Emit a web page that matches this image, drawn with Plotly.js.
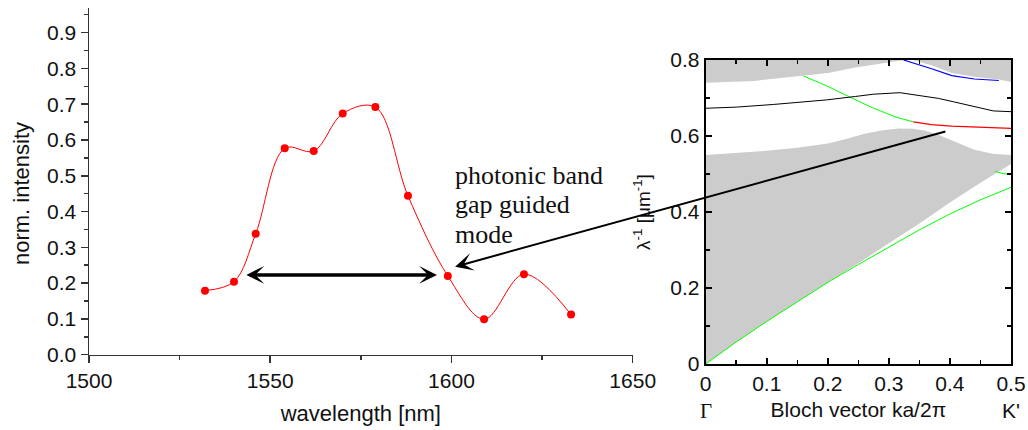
<!DOCTYPE html>
<html><head><meta charset="utf-8">
<script src="https://cdn.plot.ly/plotly-3.0.1.min.js"></script>
<style>html,body{margin:0;padding:0;background:#fff}#chart{width:1028px;height:430px}</style>
</head><body><div id="chart"></div>
<script>
// ---------- left panel: measured spectrum ----------
const wavelength = [1532, 1540, 1546, 1554, 1562, 1570, 1579, 1588, 1599, 1609, 1620, 1633];
const intensity  = [0.179, 0.204, 0.338, 0.577, 0.569, 0.674, 0.692, 0.444, 0.220, 0.099, 0.225, 0.112];

// band-gap span (double arrow) and guided-mode pointer
const gapStartWl = 1543, gapEndWl = 1596, gapLevel = 0.223;
const modeTipWl = 1601, modeTipInt = 0.246;
const modeTailK = 0.395, modeTailF = 0.613;
const labelLines = ['photonic band', 'gap guided', 'mode'];

// ---------- right panel: band diagram ----------
// main gray continuum
const grayMainUpperK = [0, 0.05, 0.1, 0.15, 0.2, 0.23, 0.26, 0.29, 0.316, 0.34, 0.36, 0.38, 0.4, 0.42, 0.44, 0.47, 0.5];
const grayMainUpperF = [0.55, 0.555, 0.561, 0.569, 0.58, 0.592, 0.606, 0.615, 0.620, 0.619, 0.614, 0.604, 0.59, 0.576, 0.564, 0.553, 0.55];
const grayMainLowerK = [0.5, 0.45, 0.4, 0.35, 0.3, 0.25, 0.2, 0.15, 0.1, 0.05, 0];
const grayMainLowerF = [0.526, 0.477, 0.425, 0.37, 0.318, 0.265, 0.215, 0.164, 0.112, 0.058, 0];
// upper gray regions
const grayTopLeftK = [0, 0, 0.08, 0.16, 0.2, 0.245, 0.3, 0.325];
const grayTopLeftF = [0.8, 0.74, 0.745, 0.758, 0.766, 0.78, 0.795, 0.8];
const grayTopRightK = [0.338, 0.37, 0.403, 0.44, 0.48, 0.5, 0.5];
const grayTopRightF = [0.8, 0.786, 0.766, 0.756, 0.749, 0.742, 0.8];
// bands
const greenLowK = [0, 0.05, 0.1, 0.15, 0.2, 0.25, 0.3, 0.35, 0.4, 0.45, 0.5];
const greenLowF = [0, 0.058, 0.112, 0.164, 0.215, 0.262, 0.308, 0.353, 0.395, 0.432, 0.465];
const greenShortK = [0.474, 0.487, 0.5];
const greenShortF = [0.507, 0.501, 0.499];
const greenUpK = [0.16, 0.198, 0.234, 0.275, 0.313, 0.34];
const greenUpF = [0.758, 0.732, 0.704, 0.673, 0.649, 0.637];
const redK = [0.34, 0.37, 0.403, 0.45, 0.5];
const redF = [0.637, 0.630, 0.626, 0.623, 0.620];
const blackK = [0, 0.05, 0.111, 0.15, 0.198, 0.245, 0.275, 0.318, 0.356, 0.381, 0.406, 0.438, 0.471, 0.5];
const blackF = [0.673, 0.676, 0.683, 0.688, 0.695, 0.704, 0.710, 0.714, 0.706, 0.699, 0.690, 0.679, 0.666, 0.664];
const blueK = [0.324, 0.35, 0.37, 0.403, 0.44, 0.48];
const blueF = [0.8, 0.788, 0.777, 0.759, 0.75, 0.746];

// ---------- geometry ----------
const W = 1028, H = 430;
const dom = {
  x1: [89 / W, 632.7 / W], y1: [1 - 354.7 / H, 1 - 8.3 / H],
  x2: [705.7 / W, 1011 / W], y2: [1 - 364 / H, 1 - 60 / H]
};
const rng = { x1: [1500, 1650], y1: [0, 0.968], x2: [0, 0.5], y2: [0, 0.8] };
function toPx(d, r, v) { return W * (d[0] + (v - r[0]) / (r[1] - r[0]) * (d[1] - d[0])); }
function toPy(d, r, v) { return H * (1 - (d[0] + (v - r[0]) / (r[1] - r[0]) * (d[1] - d[0]))); }

const SANS = 'Liberation Sans, Arial, sans-serif';
const SERIF = 'Liberation Serif, Times New Roman, serif';
const GRAY = '#cccccc';

const traces = [
  // right panel fills
  { x: grayMainUpperK.concat(grayMainLowerK), y: grayMainUpperF.concat(grayMainLowerF), xaxis: 'x2', yaxis: 'y2',
    mode: 'lines', fill: 'toself', fillcolor: GRAY, line: { width: 0 }, hoverinfo: 'skip' },
  { x: grayTopLeftK, y: grayTopLeftF, xaxis: 'x2', yaxis: 'y2',
    mode: 'lines', fill: 'toself', fillcolor: GRAY, line: { width: 0 }, hoverinfo: 'skip' },
  { x: grayTopRightK, y: grayTopRightF, xaxis: 'x2', yaxis: 'y2',
    mode: 'lines', fill: 'toself', fillcolor: GRAY, line: { width: 0 }, hoverinfo: 'skip' },
  // bands
  { x: greenLowK, y: greenLowF, xaxis: 'x2', yaxis: 'y2', mode: 'lines', line: { color: '#00ff00', width: 1 } },
  { x: greenShortK, y: greenShortF, xaxis: 'x2', yaxis: 'y2', mode: 'lines', line: { color: '#00ff00', width: 1 } },
  { x: greenUpK, y: greenUpF, xaxis: 'x2', yaxis: 'y2', mode: 'lines', line: { color: '#00ff00', width: 1 } },
  { x: redK, y: redF, xaxis: 'x2', yaxis: 'y2', mode: 'lines', line: { color: '#ff0000', width: 1.2 } },
  { x: blackK, y: blackF, xaxis: 'x2', yaxis: 'y2', mode: 'lines', line: { color: '#000000', width: 1 } },
  { x: blueK, y: blueF, xaxis: 'x2', yaxis: 'y2', mode: 'lines', line: { color: '#0000ff', width: 1.2 } },
  // left panel spectrum
  { x: wavelength, y: intensity, xaxis: 'x', yaxis: 'y', mode: 'lines+markers',
    line: { color: '#ff0000', width: 1, shape: 'spline', smoothing: 1 },
    marker: { color: '#ff0000', size: 8 } }
];

const leftAxisCommon = {
  showline: true, linecolor: '#333', linewidth: 1.5, ticks: 'outside', ticklen: 7, tickwidth: 1.5,
  tickcolor: '#333', showgrid: false, zeroline: false, tickfont: { family: SANS, size: 21, color: '#111' }
};
const rightAxisCommon = {
  showline: true, linecolor: '#000', linewidth: 2, ticks: 'inside', ticklen: 6, tickwidth: 1.5,
  tickcolor: '#000', mirror: 'allticks', showgrid: false, zeroline: false,
  tickfont: { family: SANS, size: 21, color: '#111' }
};

// pointer arrow offsets (pixels) from tip (left axes) to tail (right axes)
const tipX = toPx(dom.x1, rng.x1, modeTipWl), tipY = toPy(dom.y1, rng.y1, modeTipInt);
const tailX = toPx(dom.x2, rng.x2, modeTailK), tailY = toPy(dom.y2, rng.y2, modeTailF);

const labelX = 1600.5;
const labelPy = [175, 204, 234];

const annotations = [
  { xref: 'x', yref: 'y', x: gapEndWl, y: gapLevel, axref: 'x', ayref: 'y', ax: gapStartWl, ay: gapLevel,
    text: '', showarrow: true, arrowhead: 3, startarrowhead: 3, arrowside: 'end+start',
    arrowwidth: 3.5, arrowsize: 0.85, startarrowsize: 0.85, arrowcolor: '#000' },
  { xref: 'x', yref: 'y', x: modeTipWl, y: modeTipInt, axref: 'pixel', ayref: 'pixel',
    ax: tailX - tipX, ay: tailY - tipY, text: '', showarrow: true, arrowhead: 3,
    arrowwidth: 2, arrowsize: 1.5, arrowcolor: '#000' },
  { xref: 'x2', yref: 'paper', x: 0, y: 1 - 411 / H, yanchor: 'middle', text: 'Γ', showarrow: false,
    font: { family: SERIF, size: 21, color: '#111' } },
  { xref: 'x2', yref: 'paper', x: 0.5, y: 1 - 410 / H, yanchor: 'middle', text: "K'", showarrow: false,
    font: { family: SANS, size: 21, color: '#111' } },
  // left y-axis title
  { xref: 'paper', yref: 'paper', x: 21 / W, y: 1 - 194 / H, xanchor: 'center', yanchor: 'middle',
    text: 'norm. intensity', textangle: -90, showarrow: false,
    font: { family: SANS, size: 22, color: '#111' } }
];
labelLines.forEach((t, i) => {
  annotations.push({ xref: 'x', yref: 'paper', x: labelX, y: 1 - labelPy[i] / H, text: t,
    xanchor: 'left', yanchor: 'middle', showarrow: false,
    font: { family: SERIF, size: 26, color: '#111' } });
});

const layout = {
  width: W, height: H, margin: { l: 0, r: 0, t: 0, b: 0 },
  paper_bgcolor: '#fff', plot_bgcolor: 'rgba(0,0,0,0)', showlegend: false,
  font: { family: SANS, color: '#111' },
  xaxis: Object.assign({}, leftAxisCommon, {
    domain: dom.x1, range: rng.x1, anchor: 'y', dtick: 50, tick0: 1500,
    minor: { ticks: 'outside', ticklen: 4, dtick: 25, tickcolor: '#333', tickwidth: 1.5 },
    title: { text: 'wavelength [nm]', font: { family: SANS, size: 22, color: '#111' }, standoff: 14 }
  }),
  yaxis: Object.assign({}, leftAxisCommon, {
    domain: dom.y1, range: rng.y1, anchor: 'x', dtick: 0.1, tick0: 0, tickformat: '.1f',
    minor: { ticks: 'outside', ticklen: 4, dtick: 0.05, tickcolor: '#333', tickwidth: 1.5 }
  }),
  xaxis2: Object.assign({}, rightAxisCommon, {
    domain: dom.x2, range: rng.x2, anchor: 'y2', dtick: 0.1, tick0: 0,
    minor: { ticks: 'inside', ticklen: 4, dtick: 0.05, tickcolor: '#000', tickwidth: 1.5 },
    title: { text: 'Bloch vector ka/2π', font: { family: SANS, size: 21, color: '#111' }, standoff: 8 }
  }),
  yaxis2: Object.assign({}, rightAxisCommon, {
    domain: dom.y2, range: rng.y2, anchor: 'x2', dtick: 0.2, tick0: 0,
    minor: { ticks: 'inside', ticklen: 4, dtick: 0.1, tickcolor: '#000', tickwidth: 1.5 },
    title: { text: 'λ<sup>-1</sup> [μm<sup>-1</sup>]', font: { family: SANS, size: 19, color: '#111' }, standoff: 15 }
  }),
  annotations: annotations
};

Plotly.newPlot('chart', traces, layout, { displayModeBar: false, staticPlot: true });
</script>
</body></html>
